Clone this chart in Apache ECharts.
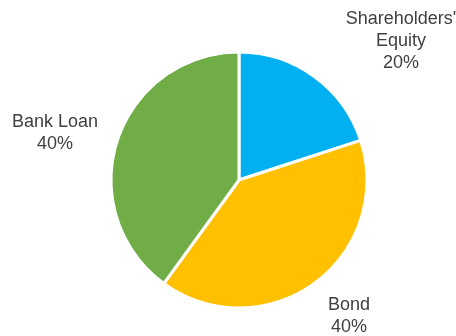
<!DOCTYPE html>
<html>
<head>
<meta charset="utf-8">
<script src="https://cdn.jsdelivr.net/npm/echarts@6/dist/echarts.min.js"></script>
<style>
  html, body { margin: 0; padding: 0; background: #ffffff; }
  #chart { width: 456px; height: 336px; }
</style>
</head>
<body>
<div id="chart"></div>
<script>
// Capital structure shares
const categories = ["Shareholders'\nEquity", "Bond", "Bank Loan"];
const shares = [20, 40, 40];
const sliceColors = ['#00B0F0', '#FFC000', '#70AD47'];

// Label anchor points (centre of each text block), by slice
const labelAnchors = [
  [401, 41],
  [349, 316],
  [55, 133]
];

const chart = echarts.init(document.getElementById('chart'), null, { renderer: 'canvas' });

chart.setOption({
  animation: false,
  backgroundColor: '#ffffff',
  series: [{
    type: 'pie',
    center: [239, 180],
    radius: [0, 128],
    startAngle: 90,
    clockwise: true,
    silent: true,
    data: categories.map((name, i) => ({
      name: name,
      value: shares[i],
      itemStyle: { color: sliceColors[i] }
    })),
    itemStyle: { borderColor: '#ffffff', borderWidth: 3 },
    label: {
      show: true,
      position: 'outside',
      formatter: p => p.name + '\n' + Math.round(p.percent) + '%',
      fontFamily: 'Liberation Sans, Arial, sans-serif',
      fontSize: 18,
      lineHeight: 22,
      color: '#404040',
      align: 'center',
      overflow: 'none',
      width: 200
    },
    labelLine: { show: false },
    labelLayout: p => ({
      x: labelAnchors[p.dataIndex][0],
      y: labelAnchors[p.dataIndex][1],
      align: 'center',
      verticalAlign: 'middle',
      hideOverlap: false
    })
  }]
});
</script>
</body>
</html>
